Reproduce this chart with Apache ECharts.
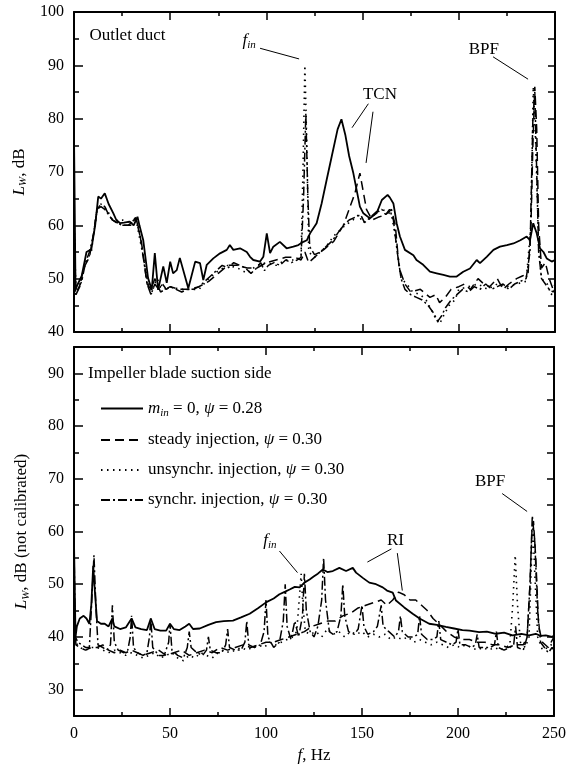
<!DOCTYPE html>
<html>
<head>
<meta charset="utf-8">
<script src="https://cdn.jsdelivr.net/npm/echarts@6/dist/echarts.min.js"></script>
<style>
html,body{margin:0;padding:0;background:#fff;}
#c1{width:569px;height:765px;}
</style>
</head>
<body>
<div id="c1"></div>
<script>
// --- data, [f Hz, Lw dB] ---
// outlet duct (top panel)
var topSolid = [[0,77],[0.8,48],[2,49],[4,50.5],[6.5,55],[9,55.5],[11,60],[12.6,65.4],[14,65],[16,66],[18,64],[20.4,62.3],[22,61],[24,60.4],[26,60.5],[29,60.7],[31,60],[33,61.6],[34,60],[36,57.2],[38.5,50.1],[40.4,47.9],[42,54.8],[43.7,47.9],[46.4,52.3],[48.2,49.2],[50,53.2],[51.5,51],[53.4,51.6],[55,53.9],[57.7,50.4],[59.4,48.2],[61,50.4],[63,53.2],[65.5,52.9],[67.2,49.75],[69,52.6],[72.4,53.8],[75.9,54.75],[79.4,55.4],[81,56.3],[82.8,55.4],[86.3,55.7],[89.8,55],[91.5,54.1],[93.2,53.5],[96.7,53.2],[98.4,54.1],[100.2,58.5],[101.9,54.8],[103.6,56],[107,56.9],[110.5,55.7],[114,56],[116.6,56.3],[119.2,56.9],[121,57.2],[122.7,58.5],[126.1,60.4],[128.7,64.1],[131.3,68.5],[134,73],[137,78],[139,79.9],[141,77],[143,73],[145.2,69.75],[148.6,63.5],[150.4,62.25],[153.8,61.3],[157.3,62.3],[160,64.75],[163,65.7],[164.2,65.2],[166,64.1],[167.7,60.4],[169.4,57.9],[172,55.4],[176.4,54.4],[178,53.5],[181.5,52.6],[185,51.3],[188.5,51],[192,50.7],[195.4,50.4],[198.9,50.4],[202.3,51.3],[205.8,51.9],[209.3,53.5],[211,52.9],[214.5,54.1],[218,55.4],[221.4,56],[225,56.3],[228.4,56.6],[232,57.2],[235.3,57.9],[237,57.2],[238.7,60.4],[240.5,58.5],[242.2,55.7],[244,55],[245.7,53.8],[248.3,53.2],[250,53.5]];
var topDashed = [[0,60],[1,47],[3,48.5],[5,52],[8,54],[10,58],[12,63],[14,64],[16,63.5],[18,62],[20,61],[25,60],[30,60],[32,61.5],[35,57],[38,49],[40,48],[42,50],[45,47.5],[50,48.5],[55,48],[60,48],[65,48.5],[70,49.5],[75,51],[80,52.5],[85,52.5],[90,52],[95,52],[100,53],[105,53.5],[110,54],[115,54],[118,53.5],[120,55],[122,53],[125,54],[128,55],[130,55.5],[135,57],[140,60],[143,63],[146,66],[148.6,69.8],[150,67],[152,63],[155,61],[158,61.5],[162,62],[165,63],[167,60],[169,52],[172,49],[175,47.5],[180,48],[185,46.5],[188,47],[190,45.5],[193,46.5],[196,48],[200,48.5],[203,49],[206,48],[210,50],[213,49],[216,48.5],[220,50],[223,48],[226,49],[230,50],[233,50.5],[236,51],[237.5,60],[238.5,75],[239.5,86],[240.5,78],[241.5,60],[243,52],[245,53],[247,50],[249,48],[250,49]];
var topDotted = [[0,63],[1,47],[3,49],[6,53],[9,55],[12,63],[14,64],[17,63],[20,61],[25,61],[30,60.5],[32,61.5],[35,56],[38,50],[40,47],[43,50],[47,48],[50,48.5],[55,48],[60,48],[65,48],[70,50],[75,51.5],[80,52.5],[85,52],[90,51],[95,52.5],[100,53],[105,52.5],[110,53.5],[115,53.5],[118,54],[119,70],[120,90],[121,75],[122,55],[125,54],[128,55],[131,56],[135,58],[138,59],[141,60],[145,61],[148,62],[150,60.5],[153,61],[156,62],[160,63],[163,62.5],[165,62],[167,58],[170,50],[173,49],[176,47.5],[180,47],[183,46],[186,44],[188,42.5],[190,41.5],[192,43],[195,45],[198,46],[200,48],[205,48.5],[210,49],[215,48],[220,49],[225,48.5],[230,49],[235,49.5],[237.5,60],[238.7,86],[240,75],[241.5,56],[243,50],[246,49],[248,47],[250,48]];
var topDashDot = [[0,62],[0.8,47],[2,48],[4,49.5],[6,53],[8,55],[10,58],[12,63],[14,63.5],[16,63],[18,62],[20,61],[22,60.5],[25,60],[28,60],[30,60.5],[32,61.5],[34,59],[36,54],[38,49],[40,47],[42,49],[44,48],[46,49],[48,48],[50,48.5],[53,48],[56,47.5],[59,48],[62,48],[65,48.5],[68,49.5],[71,50.5],[74,51.5],[77,52.5],[80,52],[83,53],[86,52.5],[89,52],[92,51],[95,52],[97,53],[99,51.5],[101,52.5],[104,53],[107,52.5],[110,53.5],[113,53],[116,53.5],[118,54],[119.3,65],[120.5,81],[121.5,66],[122.5,56],[125,54.5],[128,55],[131,56],[134,57],[137,58.5],[140,60],[143,61],[146,61.5],[149,62],[151,60.5],[154,61.5],[157,62.5],[160,63],[162,62],[164,63],[166,61],[168,55],[170,50],[172,48],[175,47],[178,46.5],[181,46],[184,45],[187,43.5],[189,42],[191,43],[193,44.5],[196,46],[199,47],[202,48],[205,47.5],[208,48.5],[211,48],[214,49],[217,48],[220,48.5],[223,49],[226,48],[229,49],[232,49.5],[235,50],[237,55],[238.5,80],[239.5,85],[240.5,70],[241.5,55],[243,50],[245,49],[247,48],[249,47.5],[250,48]];

// impeller blade suction side (bottom panel)
var botSolid = [[0,58],[0.8,40],[1.5,42],[3,43.5],[5,44],[6.5,43.5],[8,42.5],[9,46],[10,53.5],[11,48],[12,43],[14,42.5],[16,42.5],[18,42],[20,43.5],[21,42],[24,41.5],[27,41.8],[30,43.5],[32,41.8],[35,41.5],[38,41.3],[40,43.5],[42,41.5],[45,41.2],[48,41.2],[50,42.5],[52,41.5],[55,41.3],[58,42],[60,42.5],[62,41.5],[65.5,41.6],[70,42.3],[74,42.8],[78,43],[82.8,43.1],[87,43.7],[91.5,44.4],[96,45.5],[100.2,46.6],[104,47.3],[107,48.1],[110,48.6],[112.3,49],[115,49.5],[117.5,49.4],[120,50.3],[122.7,50.9],[125,51.5],[127,52],[129.6,52.8],[132,52.3],[134.8,52.5],[138.2,53.1],[141.7,52.5],[145.2,53.1],[146.9,52.2],[150.4,51.2],[153.8,50.3],[157.3,50],[160.8,49.4],[163,48.8],[166,48.4],[167.7,46.9],[172,45.6],[176.4,44.4],[180,43.5],[185,42.5],[189,42.3],[193.7,41.9],[198,41.6],[202.3,41.3],[206,41.2],[211,40.9],[215,41],[219.7,40.6],[224,40.8],[228.4,40.3],[233,40.6],[237,40.3],[240.5,40.6],[243,40.2],[245.7,40.3],[249,40],[250,40.3]];
var botDashed = [[0,45],[1,38.5],[3,38],[6,37.5],[9,38],[12,38],[15,38.5],[18,37.5],[21,37],[24,37.5],[27,37],[30,37.5],[33,37],[36,36.5],[40,37],[44,37.5],[48,36.5],[52,37],[56,37.5],[60,36.5],[64,37],[68,37.5],[72,37],[76,38],[80,37.5],[84,38],[88,38.5],[92,38],[96,38.5],[100,39],[104,39],[108,39.5],[112,40],[116,40.5],[120,41],[124,42],[128,42.5],[132,43],[136,43],[140,44],[144,44.5],[148,45.5],[152,46],[156,46.5],[160,47],[163,46],[166,47],[169,48.5],[172,48],[175,47],[178,47],[181,46],[184,45],[187,43.5],[190,42.5],[194,41],[198,40],[202,39.5],[206,39.5],[210,39],[214,39],[218,38.5],[222,38.5],[226,38],[230,38.5],[234,38.5],[236,40],[237.5,50],[238.5,60],[239.3,62],[240.5,55],[242,42],[244,39],[247,38],[250,40]];
var botDotted = [[0,50],[0.7,39],[3,38],[6,37.5],[9,38],[12,38],[15,37.5],[18,37],[21,37.5],[24,37],[27,36.5],[30,37],[33,36.5],[36,36],[39,36.5],[42,37],[45,36],[48,36.5],[51,37],[54,36],[57,35.5],[60,36.5],[63,36],[66,37],[69,36.5],[72,36],[75,37],[78,37.5],[81,37],[84,37.5],[87,38],[90,37.5],[93,38],[96,38.5],[99,38],[102,39],[105,38.5],[108,39],[111,39.5],[114,40],[116,41],[117.5,48],[118.3,52],[119.2,46],[120.5,41],[123,40.5],[126,41],[129,40],[132,41.5],[135,40.5],[138,41],[141,40],[144,41],[147,40.5],[150,41],[153,40],[156,40.5],[159,40],[162,40.5],[165,39.5],[168,40],[171,39.5],[174,40],[177,39],[180,39.5],[183,39],[186,38.5],[189,39],[192,38.5],[195,38],[198,38.5],[201,38],[204,38.5],[207,38],[210,37.5],[213,38],[216,37.5],[219,38],[222,37.5],[225,38],[227,38.5],[228.5,46],[229.8,55.5],[231,46],[232.5,39],[235,38],[237,40],[238.3,55],[239,61],[240,52],[241.5,40],[244,37.5],[247,38],[250,39]];
var botDashDot = [[0,57],[0.7,40],[2,39],[4,38.5],[6,38],[8,38],[9,45],[10.4,55.5],[11.5,45],[12.5,38.5],[15,38],[17,37.5],[19,38.5],[20,46],[21,39],[23,37.5],[26,37],[28,37.5],[29.3,40],[30,44],[31,38],[33,37],[36,36.5],[38,37],[39.3,40],[40,43.5],[41,38],[44,36.5],[47,36.5],[49.3,39],[50,42.5],[51,37.5],[54,36.5],[57,36],[59,38],[60,41],[61,38],[64,37],[67,36.5],[69,37.5],[70,40],[71,37.5],[74,37],[77,37],[79,38.5],[80,41.5],[81,38],[84,37.5],[87,37.5],[89,39],[90,43],[91,38.5],[94,38],[97,38.5],[99,41],[100,47],[101,40],[104,38],[107,39],[109,43],[110,50],[111,42],[113,39.5],[115,43],[117,40],[119,44],[120,52],[121,45],[123,41],[125,40],[127,42],[129,47],[130,55],[131,47],[133,41],[135,40.5],[137,41],[139,44],[140,50],[141,44],[143,41],[146,40.5],[148,41.5],[150,46],[151,42],[153,40.5],[156,41],[158,42],[160,46],[161,42],[164,41],[167,40],[169,41],[170,44],[171,41],[174,40],[177,40],[179,40.5],[180,44],[181,40.5],[184,39.5],[187,39.5],[189,40],[190,43],[191,39.5],[194,39],[197,38.5],[199,39],[200,41.5],[201,38.5],[204,38.5],[207,38],[209,38.5],[210,40.5],[211,38],[214,38],[217,38],[219,38.5],[220,41],[221,38],[224,37.5],[227,38],[229,38.5],[230,42],[231,38],[234,37.5],[236,40],[237.5,50],[238.7,63],[240,58],[241.5,45],[243,39],[245,38],[247,37],[249,38],[250,37.5]];

var seriesNames = ['m0', 'steady', 'unsync', 'sync'];
var legendText = {
  m0: '{i|m}{s|in} = 0, {g|ψ} = 0.28',
  steady: 'steady injection, {g|ψ} = 0.30',
  unsync: 'unsynchr. injection, {g|ψ} = 0.30',
  sync: 'synchr. injection, {g|ψ} = 0.30'
};

// annotations in data coordinates
var topLabels = [
  {coord: [8, 95.5], text: 'Outlet duct', left: true},
  {coord: [91, 94.7], text: '{i|f}{s|in}'},
  {coord: [159, 84.6], text: 'TCN'},
  {coord: [213, 92.9], text: 'BPF'}
];
var topLeaders = [
  [[96.7, 93.2], [117, 91.2]],
  [[153, 82.8], [144.5, 78.3]],
  [[155.4, 81.3], [151.8, 71.7]],
  [[217.8, 91.6], [236, 87.4]]
];
var botLabels = [
  {coord: [7.3, 90], text: 'Impeller blade suction side', left: true},
  {coord: [102, 58.3], text: '{i|f}{s|in}'},
  {coord: [167.4, 58.2], text: 'RI'},
  {coord: [216.7, 69.4], text: 'BPF'}
];
var botLeaders = [
  [[107, 56.3], [116.4, 52.2]],
  [[165.3, 56.7], [152.8, 54.2]],
  [[168.4, 55.9], [171, 48.8]],
  [[223, 67.2], [236, 63.8]]
];

var FONT = 'Liberation Serif, Times New Roman, serif';
var rich = {
  i: {fontStyle: 'italic', fontFamily: FONT, fontSize: 17, color: '#000'},
  g: {fontStyle: 'italic', fontFamily: FONT, fontSize: 17, color: '#000'},
  s: {fontStyle: 'italic', fontFamily: FONT, fontSize: 11, color: '#000', padding: [9, 0, 0, 0]}
};

var styles = [
  {type: 'solid', width: 1.8},
  {type: [9, 5], width: 1.5},
  {type: [1.5, 4.5], width: 1.6},
  {type: [9, 3, 2, 3], width: 1.5}
];

function xAxisOpt(grid, pos, labels) {
  return {
    type: 'value', gridIndex: grid, position: pos, min: 0, max: 250, interval: 50,
    axisLine: {show: true, onZero: false, lineStyle: {color: '#000', width: 2}},
    axisTick: {show: true, inside: true, length: 8, lineStyle: {color: '#000', width: 1.5}},
    minorTick: {show: true, splitNumber: 2, length: 4, lineStyle: {color: '#000', width: 1.5}},
    axisLabel: {show: labels, color: '#000', fontFamily: FONT, fontSize: 16, margin: 10},
    splitLine: {show: false},
    name: labels ? '{i|f}, Hz' : '',
    nameLocation: 'middle', nameGap: 31,
    nameTextStyle: {color: '#000', fontFamily: FONT, fontSize: 17, rich: rich}
  };
}

function makeMarks(labels, leaders) {
  return {
    markPoint: {
      symbol: 'circle', symbolSize: 0, silent: true,
      data: labels.map(function (a) {
        return {
          coord: a.coord,
          label: {
            show: true, position: a.left ? 'right' : 'inside', distance: 0,
            formatter: a.text, color: '#000', fontFamily: FONT, fontSize: 17, rich: rich
          }
        };
      })
    },
    markLine: {
      silent: true, symbol: ['none', 'none'],
      lineStyle: {color: '#000', width: 1, type: 'solid'},
      label: {show: false},
      data: leaders.map(function (l) {
        return [{coord: l[0]}, {coord: l[1]}];
      })
    }
  };
}

var chart = echarts.init(document.getElementById('c1'));
var topData = [topSolid, topDashed, topDotted, topDashDot];
var botData = [botSolid, botDashed, botDotted, botDashDot];
var series = [];
topData.forEach(function (d, k) {
  var s = {
    name: 'top_' + seriesNames[k], type: 'line', xAxisIndex: 0, yAxisIndex: 0,
    data: d, symbol: 'none', silent: true,
    lineStyle: {color: '#000', type: styles[k].type, width: styles[k].width}
  };
  if (k === 0) Object.assign(s, makeMarks(topLabels, topLeaders));
  series.push(s);
});
botData.forEach(function (d, k) {
  var s = {
    name: seriesNames[k], type: 'line', xAxisIndex: 2, yAxisIndex: 2,
    data: d, symbol: 'none', silent: true,
    lineStyle: {color: '#000', type: styles[k].type, width: styles[k].width}
  };
  if (k === 0) Object.assign(s, makeMarks(botLabels, botLeaders));
  series.push(s);
});

var option = {
  animation: false,
  color: ['#000'],
  grid: [
    {left: 74, top: 12, width: 481, height: 320},
    {left: 74, top: 347, width: 481, height: 375}
  ],
  legend: {
    data: seriesNames, orient: 'vertical', left: 95, top: 395,
    itemWidth: 42, itemHeight: 14, itemGap: 13,
    selectedMode: false,
    // hide the marker circle, keep only the line sample
    itemStyle: {color: 'rgba(0,0,0,0)', borderColor: 'rgba(0,0,0,0)', borderWidth: 0, opacity: 0},
    formatter: function (n) { return legendText[n]; },
    textStyle: {color: '#000', fontFamily: FONT, fontSize: 17, rich: rich}
  },
  xAxis: [
    xAxisOpt(0, 'bottom', false),
    xAxisOpt(0, 'top', false),
    xAxisOpt(1, 'bottom', true),
    xAxisOpt(1, 'top', false)
  ],
  yAxis: [
    {
      type: 'value', gridIndex: 0, position: 'left', min: 40, max: 100, interval: 10,
      axisLine: {show: true, onZero: false, lineStyle: {color: '#000', width: 2}},
      axisTick: {inside: true, length: 9, lineStyle: {color: '#000', width: 1.5}},
      minorTick: {show: true, splitNumber: 2, length: 5, lineStyle: {color: '#000', width: 1.5}},
      axisLabel: {color: '#000', fontFamily: FONT, fontSize: 16, margin: 10},
      splitLine: {show: false},
      name: '{i|L}{s|W}, dB', nameLocation: 'middle', nameGap: 42,
      nameTextStyle: {color: '#000', fontFamily: FONT, fontSize: 17, rich: rich}
    },
    {
      type: 'value', gridIndex: 0, position: 'right', min: 40, max: 100, interval: 5,
      axisLine: {show: true, onZero: false, lineStyle: {color: '#000', width: 2}},
      axisTick: {inside: true, length: 7, lineStyle: {color: '#000', width: 1.5}},
      axisLabel: {show: false}, splitLine: {show: false}
    },
    {
      type: 'value', gridIndex: 1, position: 'left', min: 25, max: 95, interval: 5,
      axisLine: {show: true, onZero: false, lineStyle: {color: '#000', width: 2}},
      axisTick: {inside: true, length: 5, lineStyle: {color: '#000', width: 1.5}},
      axisLabel: {
        color: '#000', fontFamily: FONT, fontSize: 16, margin: 10,
        formatter: function (v) { return v % 10 === 0 ? String(v) : ''; }
      },
      splitLine: {show: false},
      name: '{i|L}{s|W}, dB (not calibrated)', nameLocation: 'middle', nameGap: 42,
      nameTextStyle: {color: '#000', fontFamily: FONT, fontSize: 17, rich: rich}
    },
    {
      type: 'value', gridIndex: 1, position: 'right', min: 25, max: 95, interval: 5,
      axisLine: {show: true, onZero: false, lineStyle: {color: '#000', width: 2}},
      axisTick: {inside: true, length: 7, lineStyle: {color: '#000', width: 1.5}},
      axisLabel: {show: false}, splitLine: {show: false}
    },
    {
      // longer ticks at the labelled values
      type: 'value', gridIndex: 1, position: 'left', min: 25, max: 95,
      axisLine: {show: false},
      axisTick: {show: true, inside: true, length: 9, customValues: [30, 40, 50, 60, 70, 80, 90], lineStyle: {color: '#000', width: 1.5}},
      axisLabel: {show: false}, splitLine: {show: false}
    }
  ],
  series: series
};
chart.setOption(option);
</script>
</body>
</html>
